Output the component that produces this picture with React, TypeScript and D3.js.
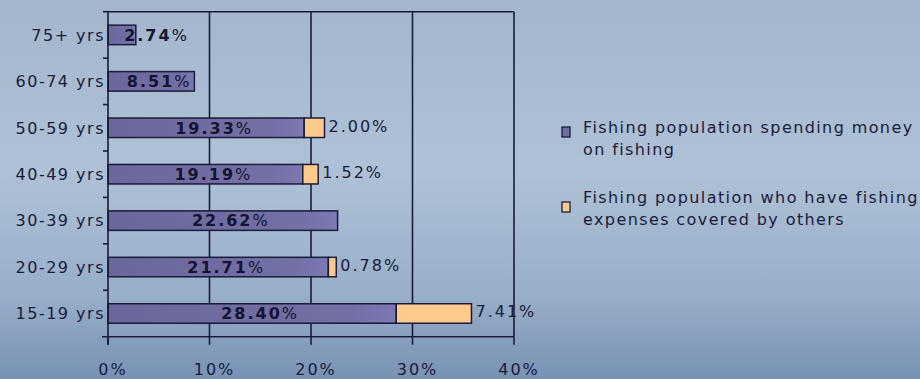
import React from "react";
import * as d3 from "d3";

const categories = ["15-19 yrs", "20-29 yrs", "30-39 yrs", "40-49 yrs", "50-59 yrs", "60-74 yrs", "75+ yrs"];
const spendingMoney = [28.4, 21.71, 22.62, 19.19, 19.33, 8.51, 2.74];
const coveredByOthers = [7.41, 0.78, 0, 1.52, 2.0, 0, 0];
const xTicks = [0, 10, 20, 30, 40];
const seriesNames = [
  ["Fishing population spending money", "on fishing"],
  ["Fishing population who have fishing", "expenses covered by others"],
];

const W = 920;
const H = 379;
const left = 108;
const right = 514;
const top = 11.7;
const bottom = 336.7;
const ink = "#1b1b3a";
const purple = "#716da3";
const orange = "#ffcb8c";
const font = "'DejaVu Sans', Verdana, sans-serif";

export default function App() {
  const x = d3.scaleLinear().domain([0, 40]).range([left, right]);
  const y = d3
    .scaleBand<string>()
    .domain([...categories].reverse())
    .range([top, bottom])
    .paddingInner(0.58)
    .paddingOuter(0.29);
  const step = y.step();
  const boundaries = d3.range(categories.length + 1).map((i) => top + i * step);

  const rows = categories.map((c, i) => ({
    cat: c,
    s: spendingMoney[i],
    o: coveredByOthers[i],
  }));

  return (
    <div style={{ position: "absolute", left: 0, top: 0 }}>
      <svg width={W} height={H} style={{ display: "block" }} fontFamily={font}>
        <defs>
          <linearGradient id="bg" x1="0" y1="0" x2="0" y2="1">
            <stop offset="0" stopColor="#a3b6cd" />
            <stop offset="0.45" stopColor="#aec1d6" />
            <stop offset="0.78" stopColor="#98aec9" />
            <stop offset="1" stopColor="#7892b4" />
          </linearGradient>
          <linearGradient id="pbar" x1="0" y1="0" x2="1" y2="0">
            <stop offset="0" stopColor="#6c679b" />
            <stop offset="0.85" stopColor="#7370a6" />
            <stop offset="1" stopColor="#7d7ab4" />
          </linearGradient>
        </defs>
        <rect x={0} y={0} width={W} height={H} fill="url(#bg)" />

        {/* gridlines */}
        {xTicks.slice(1).map((t) => (
          <line key={"g" + t} x1={x(t)} x2={x(t)} y1={top} y2={bottom} stroke={ink} strokeWidth={1.6} />
        ))}
        <line x1={left} x2={right} y1={top} y2={top} stroke={ink} strokeWidth={1.6} />

        {/* bars */}
        {rows.map((r) => {
          const by = y(r.cat)!;
          const bh = y.bandwidth();
          return (
            <g key={r.cat}>
              <rect x={x(0)} y={by} width={x(r.s) - x(0)} height={bh} fill="url(#pbar)" stroke={ink} strokeWidth={1.5} />
              {r.o > 0 && (
                <rect x={x(r.s)} y={by} width={x(r.s + r.o) - x(r.s)} height={bh} fill={orange} stroke={ink} strokeWidth={1.5} />
              )}
            </g>
          );
        })}

        {/* axes */}
        <line x1={left} x2={left} y1={top} y2={bottom + 8} stroke={ink} strokeWidth={1.6} />
        <line x1={left - 6} x2={right} y1={bottom} y2={bottom} stroke={ink} strokeWidth={1.6} />
        {boundaries.slice(0, -1).map((b, i) => (
          <line key={"yt" + i} x1={left - 5} x2={left} y1={b} y2={b} stroke={ink} strokeWidth={1.6} />
        ))}
        {xTicks.map((t) => (
          <line key={"xt" + t} x1={x(t)} x2={x(t)} y1={bottom} y2={bottom + 8} stroke={ink} strokeWidth={1.6} />
        ))}

        {/* category labels */}
        {rows.map((r) => (
          <text
            key={"cl" + r.cat}
            x={left - 3}
            y={y(r.cat)! + y.bandwidth() / 2}
            dy="0.36em"
            textAnchor="end"
            fontSize={16}
            letterSpacing={1.5}
            fill={ink}
          >
            {r.cat}
          </text>
        ))}

        {/* x tick labels */}
        {xTicks.map((t) => (
          <text key={"xl" + t} x={x(t) + 5} y={375} textAnchor="middle" fontSize={16} letterSpacing={2} fill={ink}>
            {t}%
          </text>
        ))}

        {/* value labels inside */}
        {rows.map((r) => {
          const cy = y(r.cat)! + y.bandwidth() / 2;
          const approxW = r.s.toFixed(2).length * 12.5 + 17;
          let cx = (x(0) + x(r.s)) / 2 + 8;
          if (cx - approxW / 2 < left + 15) cx = left + 15 + approxW / 2;
          return (
            <text
              key={"vl" + r.cat}
              x={cx}
              y={cy}
              dy="0.36em"
              textAnchor="middle"
              fontSize={16}
              letterSpacing={2}
              fill="#14142e"
            >
              <tspan fontWeight="bold">{r.s.toFixed(2)}</tspan>
              <tspan fontWeight="normal">%</tspan>
            </text>
          );
        })}

        {/* value labels outside */}
        {rows
          .filter((r) => r.o > 0)
          .map((r) => (
            <text
              key={"ol" + r.cat}
              x={x(r.s + r.o) + 4}
              y={y(r.cat)! + y.bandwidth() / 2 - 2}
              dy="0.36em"
              textAnchor="start"
              fontSize={16}
              letterSpacing={2}
              fill={ink}
            >
              {r.o.toFixed(2)}%
            </text>
          ))}

        {/* legend */}
        {seriesNames.map((lines, i) => {
          const baseY = i === 0 ? 133 : 203;
          const sqY = i === 0 ? 127 : 202;
          return (
            <g key={"lg" + i}>
              <rect x={562} y={sqY} width={8} height={10} fill={i === 0 ? purple : orange} stroke={ink} strokeWidth={1.3} />
              {lines.map((ln, j) => (
                <text key={j} x={583} y={baseY + j * 22} fontSize={16} letterSpacing={1.4} fill={ink}>
                  {ln}
                </text>
              ))}
            </g>
          );
        })}
      </svg>
    </div>
  );
}
